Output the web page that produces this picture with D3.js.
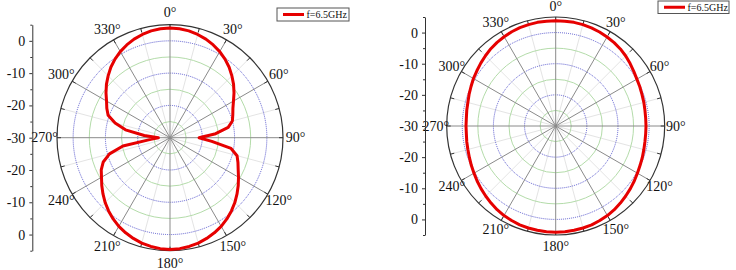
<!DOCTYPE html>
<html>
<head>
<meta charset="utf-8">
<script src="https://cdn.jsdelivr.net/npm/d3@7"></script>
<style>
  html, body { margin: 0; padding: 0; background: #fff; }
  #viz-polar { width: 736px; height: 270px; }
</style>
</head>
<body>
<div id="viz-polar"></div>
<script>
// radiation patterns at 6.5 GHz, two planes side by side
const angleDeg = [0,5,10,15,20,25,30,35,40,45,50,55,60,65,70,75,80,85,90,95,100,105,110,115,
  120,125,130,135,140,145,150,155,160,165,170,175,180,185,190,195,200,205,210,215,220,225,230,235,
  240,245,250,255,260,265,270,275,280,285,290,295,300,305,310,315,320,325,330,335,340,345,350,355];

// left plot (figure-eight), dB
const leftGain = [4.0,3.9,3.6,3.1,2.5,1.7,0.8,-0.3,-1.5,-2.9,-4.3,-5.8,-7.3,-8.5,-9.3,-10.0,-11.7,-15.8,
  -21.0,-17.0,-10.8,-8.5,-7.6,-6.7,-5.5,-4.2,-2.9,-1.6,-0.4,0.7,1.7,2.5,3.2,3.8,4.2,4.5,
  4.6,4.5,4.2,3.8,3.2,2.5,1.7,0.7,-0.4,-1.6,-2.9,-4.2,-5.5,-6.5,-8.0,-10.6,-15.2,-24.0,
  -26.4,-22.0,-16.0,-12.4,-9.6,-8.4,-7.3,-5.8,-4.3,-2.9,-1.5,-0.3,0.8,1.7,2.5,3.1,3.6,3.9];

// right plot (near omni), dB
const rightGain = [3.8,3.8,3.8,3.7,3.5,3.3,3.0,2.7,2.3,1.8,1.2,0.6,0.1,-0.2,-0.5,-0.7,-0.9,-1.0,
  -1.0,-1.0,-0.9,-0.7,-0.4,-0.1,0.3,0.8,1.3,1.8,2.3,2.8,3.2,3.5,3.8,3.9,4.0,4.1,
  4.1,4.1,4.0,3.9,3.8,3.5,3.2,2.8,2.3,1.8,1.3,0.8,0.3,-0.1,-0.5,-0.8,-1.0,-1.2,
  -1.2,-1.2,-1.0,-0.8,-0.4,0.0,0.5,0.9,1.4,1.9,2.4,2.8,3.1,3.4,3.6,3.7,3.8,3.8];

const ringMajor = [-20, -10, 0];
const ringMinor = [-25, -15, -5];
const spokeMajor = [0, 30, 60, 90, 120, 150, 180, 210, 240, 270, 300, 330];
const spokeMinor = [15, 45, 75, 105, 135, 165, 195, 225, 255, 285, 315, 345];
const radialTicks = [-30, -20, -10, 0];
const radialMinor = [-25, -15, -5, 5];
const radialDomain = [-30, 5];
const legendLabel = 'f=6.5GHz';

(function(){
  const container = d3.select('#viz-polar');
  const W = 736, H = 270;
  const serif = '"Liberation Serif", "Times New Roman", serif';
  const svg = container.append('svg').attr('width', W).attr('height', H);

  const rad = d => d * Math.PI / 180;

  function drawPolar(opt, gain){
    const {cx, cy, R, axisX, labelGap, leg} = opt;
    const r = d3.scaleLinear().domain(radialDomain).range([0, R]).clamp(true);
    const g = svg.append('g').attr('transform', `translate(${cx},${cy})`);

    // light minor spokes
    g.selectAll('line.minor').data(spokeMinor).join('line')
      .attr('x1', 0).attr('y1', 0)
      .attr('x2', d => R * Math.sin(rad(d))).attr('y2', d => -R * Math.cos(rad(d)))
      .attr('stroke', '#e4e4e4').attr('stroke-width', 1);

    // rings
    g.selectAll('circle.rmin').data(ringMinor).join('circle')
      .attr('r', d => r(d)).attr('fill', 'none')
      .attr('stroke', '#b4dcaa').attr('stroke-width', 1);
    g.selectAll('circle.rmaj').data(ringMajor).join('circle')
      .attr('r', d => r(d)).attr('fill', 'none')
      .attr('stroke', '#4a4ac8').attr('stroke-width', 0.9).attr('stroke-dasharray', '1,1');

    // major spokes
    g.selectAll('line.major').data(spokeMajor).join('line')
      .attr('x1', 0).attr('y1', 0)
      .attr('x2', d => R * Math.sin(rad(d))).attr('y2', d => -R * Math.cos(rad(d)))
      .attr('stroke', '#8a8a8a').attr('stroke-width', 1);

    // outer circle + inward ticks
    g.append('circle').attr('r', R).attr('fill', 'none').attr('stroke', '#333').attr('stroke-width', 1.2);
    g.selectAll('line.tk').data(spokeMajor.concat(spokeMinor)).join('line')
      .attr('x1', d => R * Math.sin(rad(d))).attr('y1', d => -R * Math.cos(rad(d)))
      .attr('x2', d => (R - 4) * Math.sin(rad(d))).attr('y2', d => -(R - 4) * Math.cos(rad(d)))
      .attr('stroke', '#333').attr('stroke-width', 1);

    // pattern
    const pts = angleDeg.map((a, i) => [rad(a), r(gain[i])]);
    const line = d3.lineRadial().angle(d => d[0]).radius(d => d[1]).curve(d3.curveLinearClosed);
    g.append('path').datum(pts).attr('d', line)
      .attr('fill', 'none').attr('stroke', '#e60000').attr('stroke-width', 3)
      .attr('stroke-linejoin', 'round');

    // angle labels
    g.selectAll('text.ang').data(spokeMajor).join('text')
      .attr('x', d => (R + labelGap) * Math.sin(rad(d)))
      .attr('y', d => -(R + labelGap) * Math.cos(rad(d)))
      .attr('text-anchor', 'middle').attr('dominant-baseline', 'central')
      .attr('font-family', serif).attr('font-size', 14).attr('fill', '#111')
      .text(d => d + '°');

    // mirrored radial axis on the left
    const yTop = d3.scaleLinear().domain(radialDomain).range([cy, cy - R]);
    const yBot = d3.scaleLinear().domain(radialDomain).range([cy, cy + R]);
    const ax = svg.append('g').attr('transform', `translate(${axisX},0)`);
    [[yTop, radialTicks], [yBot, radialTicks.slice(1)]].forEach(([s, tv]) => {
      const a = ax.append('g').call(d3.axisLeft(s).tickValues(tv).tickFormat(d => String(d))
        .tickSize(3).tickSizeOuter(0).tickPadding(4));
      a.attr('font-family', serif).attr('font-size', 14);
      a.selectAll('text').attr('fill', '#111');
      a.selectAll('line, path').attr('stroke', '#333');
      const m = ax.append('g').call(d3.axisLeft(s).tickValues(radialMinor).tickFormat('').tickSize(2));
      m.select('.domain').remove();
      m.selectAll('line').attr('stroke', '#333');
    });

    // legend
    const lg = svg.append('g').attr('transform', `translate(${leg.x},${leg.y})`);
    lg.append('rect').attr('width', leg.w).attr('height', leg.h)
      .attr('fill', '#fff').attr('stroke', '#555').attr('stroke-width', 1);
    lg.append('line').attr('x1', 6).attr('x2', 27).attr('y1', leg.h / 2).attr('y2', leg.h / 2)
      .attr('stroke', '#e60000').attr('stroke-width', 3);
    lg.append('text').attr('x', 29.5).attr('y', leg.h / 2 + 3.5)
      .attr('font-family', serif).attr('font-size', 10).attr('fill', '#111')
      .text(legendLabel);
  }

  drawPolar({cx: 170, cy: 137.7, R: 113, axisX: 32.3, labelGap: 12.5,
    leg: {x: 277, y: 8, w: 72, h: 13}}, leftGain);
  drawPolar({cx: 555.7, cy: 126, R: 109, axisX: 425, labelGap: 11,
    leg: {x: 658, y: 1, w: 71, h: 12.5}}, rightGain);
})();
</script>
</body>
</html>
